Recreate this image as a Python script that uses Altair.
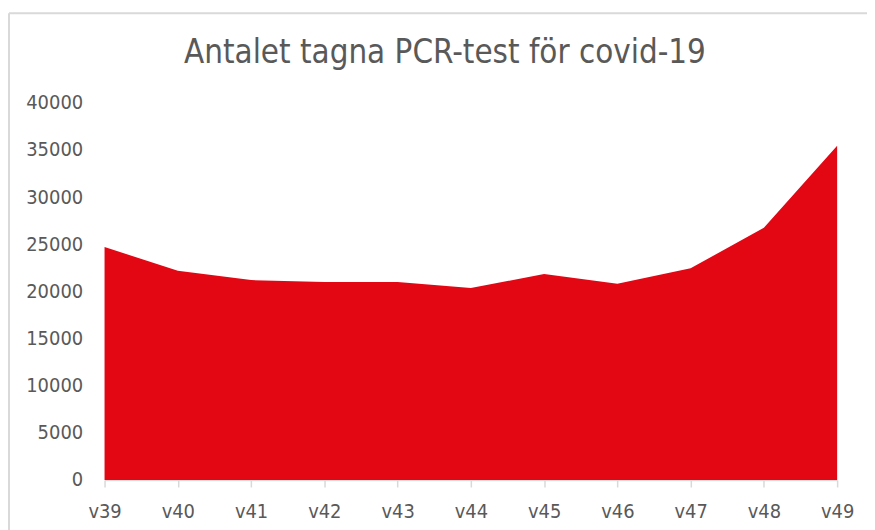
import altair as alt
import pandas as pd

weeks = ["v39", "v40", "v41", "v42", "v43", "v44", "v45", "v46", "v47", "v48", "v49"]
tests = [24700, 22200, 21200, 21000, 21000, 20350, 21850, 20800, 22450, 26750, 35450]

df = pd.DataFrame({"week": weeks, "tests": tests})

FONT = "DejaVu Sans Condensed"
GRAY = "#595959"

area = alt.Chart(df).mark_area(color="#E30613", opacity=1).encode(
    x=alt.X("week:O", sort=weeks, scale=alt.Scale(type="point", padding=0),
            axis=alt.Axis(title=None, labelAngle=0, labelFont=FONT, labelFontSize=20,
                          labelColor=GRAY, domainColor="#d9d9d9", domainWidth=1.5,
                          tickColor="#d9d9d9", tickSize=7, tickWidth=1.5, labelPadding=15,
                          grid=False)),
    y=alt.Y("tests:Q", scale=alt.Scale(domain=[0, 40000]),
            axis=alt.Axis(title=None, values=list(range(0, 40001, 5000)), format="d",
                          labelFont=FONT, labelFontSize=20, labelColor=GRAY,
                          domain=False, ticks=False, grid=False, labelPadding=22)),
)

border_df = pd.DataFrame({"a": [0]})
top_border = alt.Chart(border_df).mark_rule(color="#d9d9d9", strokeWidth=2).encode(
    x=alt.value(-96), x2=alt.value(800), y=alt.value(-90))
left_border = alt.Chart(border_df).mark_rule(color="#d9d9d9", strokeWidth=2).encode(
    x=alt.value(-96), y=alt.value(-90), y2=alt.value(460))

chart = alt.layer(top_border, left_border, area).properties(
    width=736, height=379,
    autosize=alt.AutoSizeParams(type="none"),
    padding={"left": 97, "top": 94, "right": 30, "bottom": 50},
    title=alt.TitleParams("Antalet tagna PCR-test för covid-19", font=FONT, fontSize=33,
                          fontWeight="normal", color=GRAY, anchor="middle", dx=-26, offset=-58),
).configure_view(stroke=None)

chart.save("out.html", embed_options={"renderer": "svg", "actions": False})
